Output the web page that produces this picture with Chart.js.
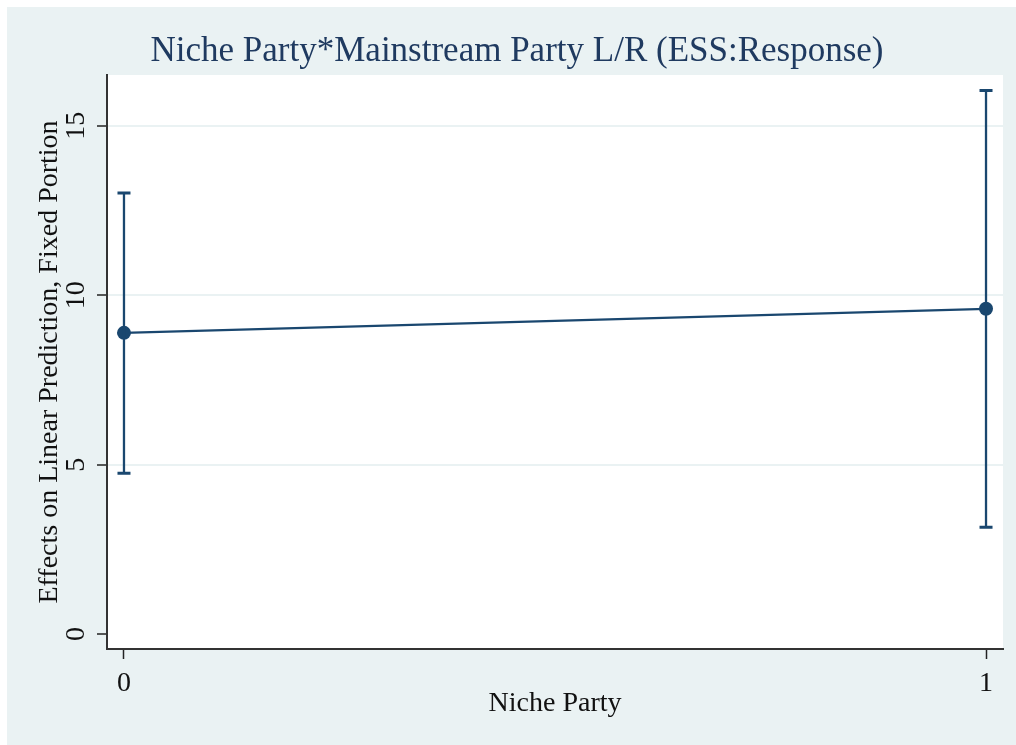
<!DOCTYPE html>
<html>
<head>
<meta charset="utf-8">
<title>Niche Party*Mainstream Party L/R</title>
<script src="https://cdn.jsdelivr.net/npm/chart.js@4.4.1/dist/chart.umd.min.js"></script>
<style>
  html, body { margin: 0; padding: 0; background: #ffffff; }
  #wrap { width: 1016px; height: 745px; }
</style>
</head>
<body>
<div id="wrap"><canvas id="chart-margins" width="1016" height="745"></canvas></div>
<script>
// data
const nicheParty = [0, 1];
const margins = [8.89, 9.60];
const ciLower = [4.75, 3.15];
const ciUpper = [13.02, 16.04];
const yTicks = [0, 5, 10, 15];

const navy = '#1a476f';
const panelBg = '#eaf2f3';
const serif = '"Liberation Serif", "Times New Roman", serif';

// background panel + white plot region
const panelPlugin = {
    id: 'panel',
    beforeDraw(chart) {
        const { ctx, chartArea } = chart;
        ctx.save();
        ctx.fillStyle = '#ffffff';
        ctx.fillRect(0, 0, chart.width, chart.height);
        ctx.fillStyle = panelBg;
        ctx.fillRect(7, 7, chart.width - 7, chart.height - 7);
        ctx.fillStyle = '#ffffff';
        ctx.fillRect(chartArea.left, chartArea.top, chartArea.right - chartArea.left, chartArea.bottom - chartArea.top);
        ctx.restore();
    }
};

// confidence intervals with caps
const errorBarPlugin = {
    id: 'errorBars',
    afterDatasetsDraw(chart) {
        const { ctx, scales } = chart;
        const capHalf = 6.5;
        ctx.save();
        ctx.strokeStyle = navy;
        ctx.lineWidth = 2.3;
        nicheParty.forEach((v, i) => {
            const x = scales.x.getPixelForValue(v);
            const yLo = scales.y.getPixelForValue(ciLower[i]);
            const yHi = scales.y.getPixelForValue(ciUpper[i]);
            ctx.beginPath();
            ctx.moveTo(x, yLo);
            ctx.lineTo(x, yHi);
            ctx.stroke();
            ctx.lineWidth = 3;
            ctx.beginPath();
            ctx.moveTo(x - capHalf, yLo);
            ctx.lineTo(x + capHalf, yLo);
            ctx.moveTo(x - capHalf, yHi);
            ctx.lineTo(x + capHalf, yHi);
            ctx.stroke();
            ctx.lineWidth = 2.3;
        });
        ctx.restore();
    }
};

new Chart(document.getElementById('chart-margins'), {
    type: 'line',
    data: {
        datasets: [{
            data: nicheParty.map((v, i) => ({ x: v, y: margins[i] })),
            borderColor: navy,
            backgroundColor: navy,
            borderWidth: 2.3,
            pointRadius: 7,
            pointHoverRadius: 7,
            pointBackgroundColor: navy,
            pointBorderWidth: 0,
            tension: 0
        }]
    },
    options: {
        responsive: false,
        animation: false,
        devicePixelRatio: 1,
        layout: { padding: { left: 31, right: 13, top: 0, bottom: 0 } },
        plugins: {
            legend: { display: false },
            tooltip: { enabled: false },
            title: {
                display: true,
                text: 'Niche Party*Mainstream Party L/R (ESS:Response)',
                color: '#1f3a60',
                font: { family: serif, size: 35, weight: 'normal' },
                padding: { top: 31, bottom: 2 }
            }
        },
        scales: {
            x: {
                type: 'linear',
                min: -0.0197,
                max: 1.0197,
                afterFit(scale) { scale.height = 96; },
                afterBuildTicks(scale) { scale.ticks = nicheParty.map(v => ({ value: v })); },
                ticks: {
                    color: '#111',
                    font: { family: serif, size: 28 },
                    padding: 8,
                    includeBounds: false,
                    autoSkip: false,
                    maxRotation: 0,
                    callback: v => String(v)
                },
                grid: {
                    display: true,
                    drawOnChartArea: false,
                    drawTicks: true,
                    tickLength: 10,
                    tickColor: '#222',
                    tickWidth: 1.5
                },
                border: { display: true, color: '#333', width: 2 },
                title: {
                    display: true,
                    text: 'Niche Party',
                    color: '#111',
                    font: { family: serif, size: 28 },
                    padding: { top: 0, bottom: 25 }
                }
            },
            y: {
                type: 'linear',
                min: -0.44,
                max: 16.5,
                afterFit(scale) { scale.width = 76; },
                afterBuildTicks(scale) { scale.ticks = yTicks.map(v => ({ value: v })); },
                ticks: {
                    color: '#111',
                    font: { family: serif, size: 28 },
                    padding: 6,
                    minRotation: 90,
                    maxRotation: 90,
                    crossAlign: 'center',
                    autoSkip: false,
                    includeBounds: false
                },
                grid: {
                    display: true,
                    drawOnChartArea: true,
                    drawTicks: true,
                    tickLength: 10,
                    color: ctx => (ctx.tick && ctx.tick.value === 0 ? 'rgba(0,0,0,0)' : panelBg),
                    lineWidth: 2,
                    tickColor: '#222',
                    tickWidth: 1.5
                },
                border: { display: true, color: '#333', width: 2 },
                title: {
                    display: true,
                    text: 'Effects on Linear Prediction, Fixed Portion',
                    color: '#111',
                    font: { family: serif, size: 28 },
                    padding: { top: 2, bottom: 0 }
                }
            }
        }
    },
    plugins: [panelPlugin, errorBarPlugin]
});
</script>
</body>
</html>
